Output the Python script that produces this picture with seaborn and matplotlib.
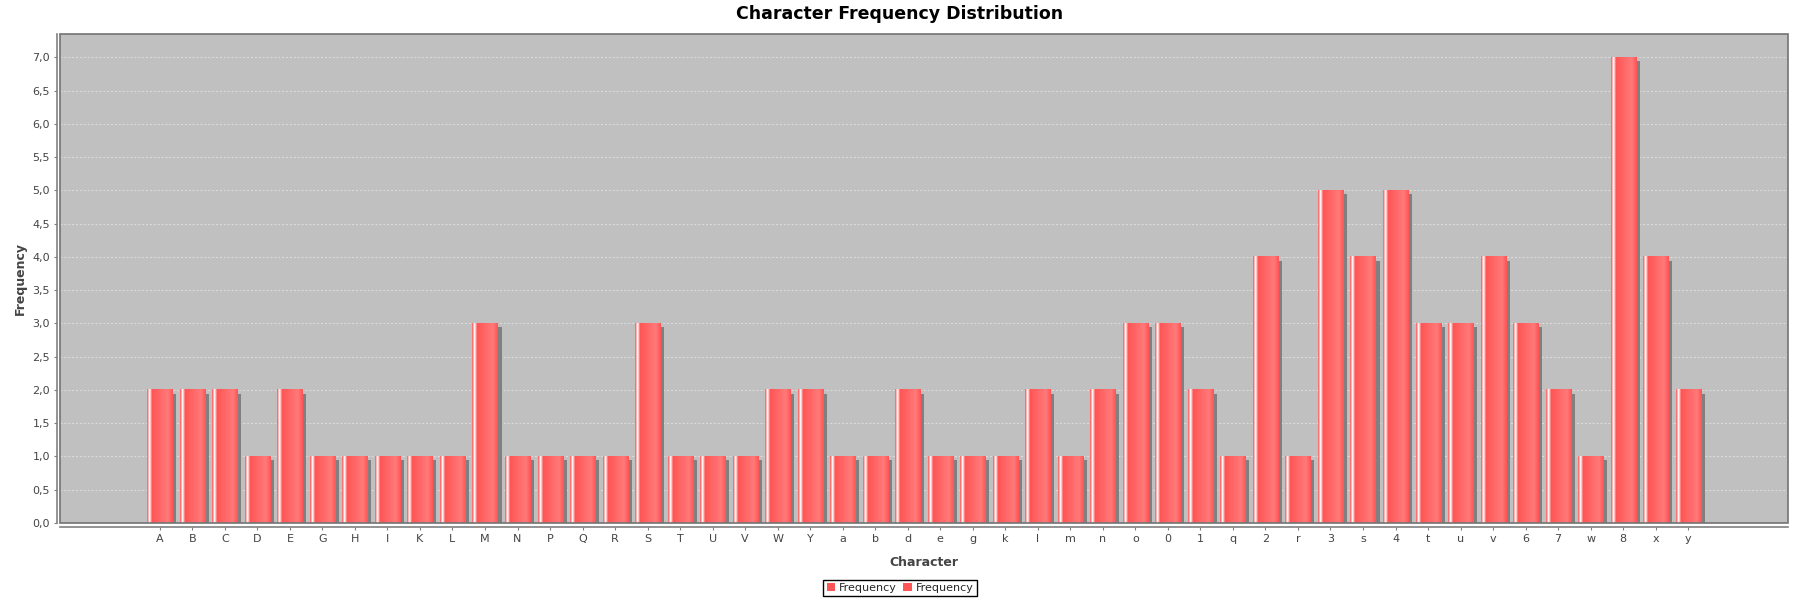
import numpy as np
import pandas as pd
import matplotlib
matplotlib.use('Agg')
import matplotlib.pyplot as plt
import matplotlib.transforms as mtransforms
from matplotlib.colors import LinearSegmentedColormap
from matplotlib.patches import Rectangle
from matplotlib.ticker import MultipleLocator, FuncFormatter
import seaborn as sns

# 字符與出現次數
chars = ['A', 'B', 'C', 'D', 'E', 'G', 'H', 'I', 'K', 'L', 'M', 'N', 'P', 'Q', 'R', 'S',
         'T', 'U', 'V', 'W', 'Y', 'a', 'b', 'd', 'e', 'g', 'k', 'l', 'm', 'n', 'o', '0',
         '1', 'q', '2', 'r', '3', 's', '4', 't', 'u', 'v', '6', '7', 'w', '8', 'x', 'y']
freqs = [2, 2, 2, 1, 2, 1, 1, 1, 1, 1, 3, 1, 1, 1, 1, 3,
         1, 1, 1, 2, 2, 1, 1, 2, 1, 1, 1, 2, 1, 2, 3, 3,
         2, 1, 4, 1, 5, 4, 5, 3, 3, 4, 3, 2, 1, 7, 4, 2]
series_names = ['Frequency', 'Frequency']

BAR = '#FF5555'
BAR_LIGHT = '#FF7979'
df = pd.DataFrame({'Character': chars, 'Frequency': freqs})

sns.set_style('white')
plt.rcParams['font.family'] = ['DejaVu Sans']

fig = plt.figure(figsize=(18, 6), dpi=100)
ax = fig.add_axes([60 / 1800, 1 - 523 / 600, 1728 / 1800, 489 / 600])
ax.set_facecolor('#C0C0C0')
ax.set_axisbelow(True)

sns.barplot(data=df, x='Character', y='Frequency', order=chars, color=BAR,
            saturation=1, width=0.77, linewidth=0, ax=ax, zorder=2)

# 陰影 + 漸層 (仿 JFreeChart)
grad_cmap = LinearSegmentedColormap.from_list(
    'bar', [(0, BAR), (0.1, 'white'), (0.2, BAR), (0.8, BAR_LIGHT), (1.0, BAR)])
grad = np.linspace(0, 1, 256).reshape(1, -1)
shadow_tr = ax.transData + mtransforms.ScaledTranslation(0.04, -0.04, fig.dpi_scale_trans)
for p in list(ax.patches):
    x0, w, h = p.get_x(), p.get_width(), p.get_height()
    ax.add_patch(Rectangle((x0, 0), w, h, facecolor='#808080', edgecolor='none',
                           transform=shadow_tr, zorder=1.5))
    ax.imshow(grad, cmap=grad_cmap, extent=(x0, x0 + w, 0, h), aspect='auto',
              interpolation='nearest', zorder=2.1)

ax.set_xlim(-3.07, len(chars) - 1 + 3.07)
ax.set_ylim(0, 7.35)

ax.yaxis.set_major_locator(MultipleLocator(0.5))
ax.yaxis.set_major_formatter(FuncFormatter(lambda v, _: f'{v:.1f}'.replace('.', ',')))
ax.grid(axis='y', color='#DEDEDE', linestyle=(0, (2, 2)), linewidth=0.7)
ax.grid(axis='x', visible=False)

for side in ['top', 'right']:
    ax.spines[side].set_visible(False)
ax.spines['left'].set_position(('outward', 2.2))
ax.spines['bottom'].set_position(('outward', 2.9))
for side in ['left', 'bottom']:
    ax.spines[side].set_color('#808080')
    ax.spines[side].set_linewidth(1.2)
ax.add_patch(Rectangle((0, 0), 1, 1, transform=ax.transAxes, fill=False,
                       edgecolor='#737373', linewidth=1.2, clip_on=False, zorder=5))

ax.tick_params(axis='both', which='major', length=2, width=0.8, color='#808080',
               labelsize=8, labelcolor='#444444', pad=3, bottom=True, left=True)

ax.set_xlabel('Character', fontsize=9, fontweight='bold', color='#444444')
ax.set_ylabel('Frequency', fontsize=9, fontweight='bold', color='#444444')
ax.xaxis.set_label_coords(0.5, -0.068)
ax.yaxis.set_label_coords(-0.019, 0.5)

fig.text(0.5, 1 - 14 / 600, 'Character Frequency Distribution', ha='center', va='center',
         fontsize=12.5, fontweight='bold', color='black')

handles = [Rectangle((0, 0), 1, 1, facecolor=BAR, edgecolor='none') for _ in series_names]
leg = fig.legend(handles, series_names, loc='center', bbox_to_anchor=(0.5, 1 - 588 / 600),
                 ncol=2, fontsize=8, frameon=True, fancybox=False, edgecolor='black',
                 framealpha=1, borderpad=0.3, handlelength=0.8, handleheight=0.8,
                 handletextpad=0.3, columnspacing=0.6, borderaxespad=0)
leg.get_frame().set_linewidth(1.0)

fig.savefig('out.png', dpi=100)
